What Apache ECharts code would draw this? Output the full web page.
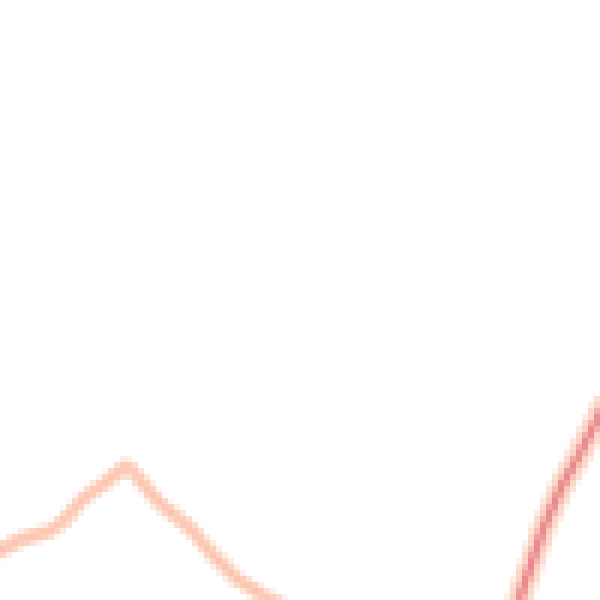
<!DOCTYPE html>
<html>
<head>
<meta charset="utf-8">
<script src="https://cdn.jsdelivr.net/npm/echarts@6/dist/echarts.min.js"></script>
<style>
html,body{margin:0;padding:0;background:#fff;overflow:hidden;}
#wrap{width:600px;height:600px;overflow:hidden;}
#chart{width:100px;height:100px;transform:scale(6);transform-origin:0 0;image-rendering:pixelated;}
#chart canvas{image-rendering:pixelated;image-rendering:crisp-edges;}
</style>
</head>
<body>
<div id="wrap"><div id="chart"></div></div>
<script>
// Fragment of two curves (coordinates in a 0..100 value space)
const peachX = [-1, 0, 3.3, 8.3, 10.8, 14, 17.5, 21.2, 26.7, 31.7, 35.5, 39.5, 44, 47];
const peachY = [7.8, 8.3, 10, 11.5, 13.3, 17, 19.5, 22.5, 16, 12, 7.5, 3.5, 0.6, -1];
const redX = [85.6, 86.7, 90.5, 93.3, 96.7, 99.5, 101];
const redY = [-2.5, 0.5, 11.7, 18.3, 24.5, 30, 33];

const pair = (xs, ys) => xs.map((x, i) => [x, ys[i]]);

const chart = echarts.init(document.getElementById('chart'), null, {devicePixelRatio: 1, renderer: 'canvas'});
chart.setOption({
  animation: false,
  backgroundColor: '#fff',
  grid: {left: 0, right: 0, top: 0, bottom: 0},
  xAxis: {type: 'value', min: 0, max: 100, show: false},
  yAxis: {type: 'value', min: 0, max: 100, show: false},
  series: [
    {type: 'line', data: pair(peachX, peachY), showSymbol: false, smooth: false, clip: true,
     lineStyle: {width: 2.6, color: 'rgba(253,205,182,0.85)'}},
    {type: 'line', data: pair(peachX, peachY), showSymbol: false, clip: true,
     lineStyle: {width: 0.8, color: 'rgba(250,165,145,0.45)'}},
    {type: 'line', data: pair(redX, redY), showSymbol: false, clip: true,
     lineStyle: {width: 4, color: 'rgba(252,208,190,0.85)'}},
    {type: 'line', data: pair(redX, redY), showSymbol: false, clip: true,
     lineStyle: {width: 1.4, color: 'rgba(230,130,135,0.9)'}}
  ]
});
</script>
</body>
</html>
